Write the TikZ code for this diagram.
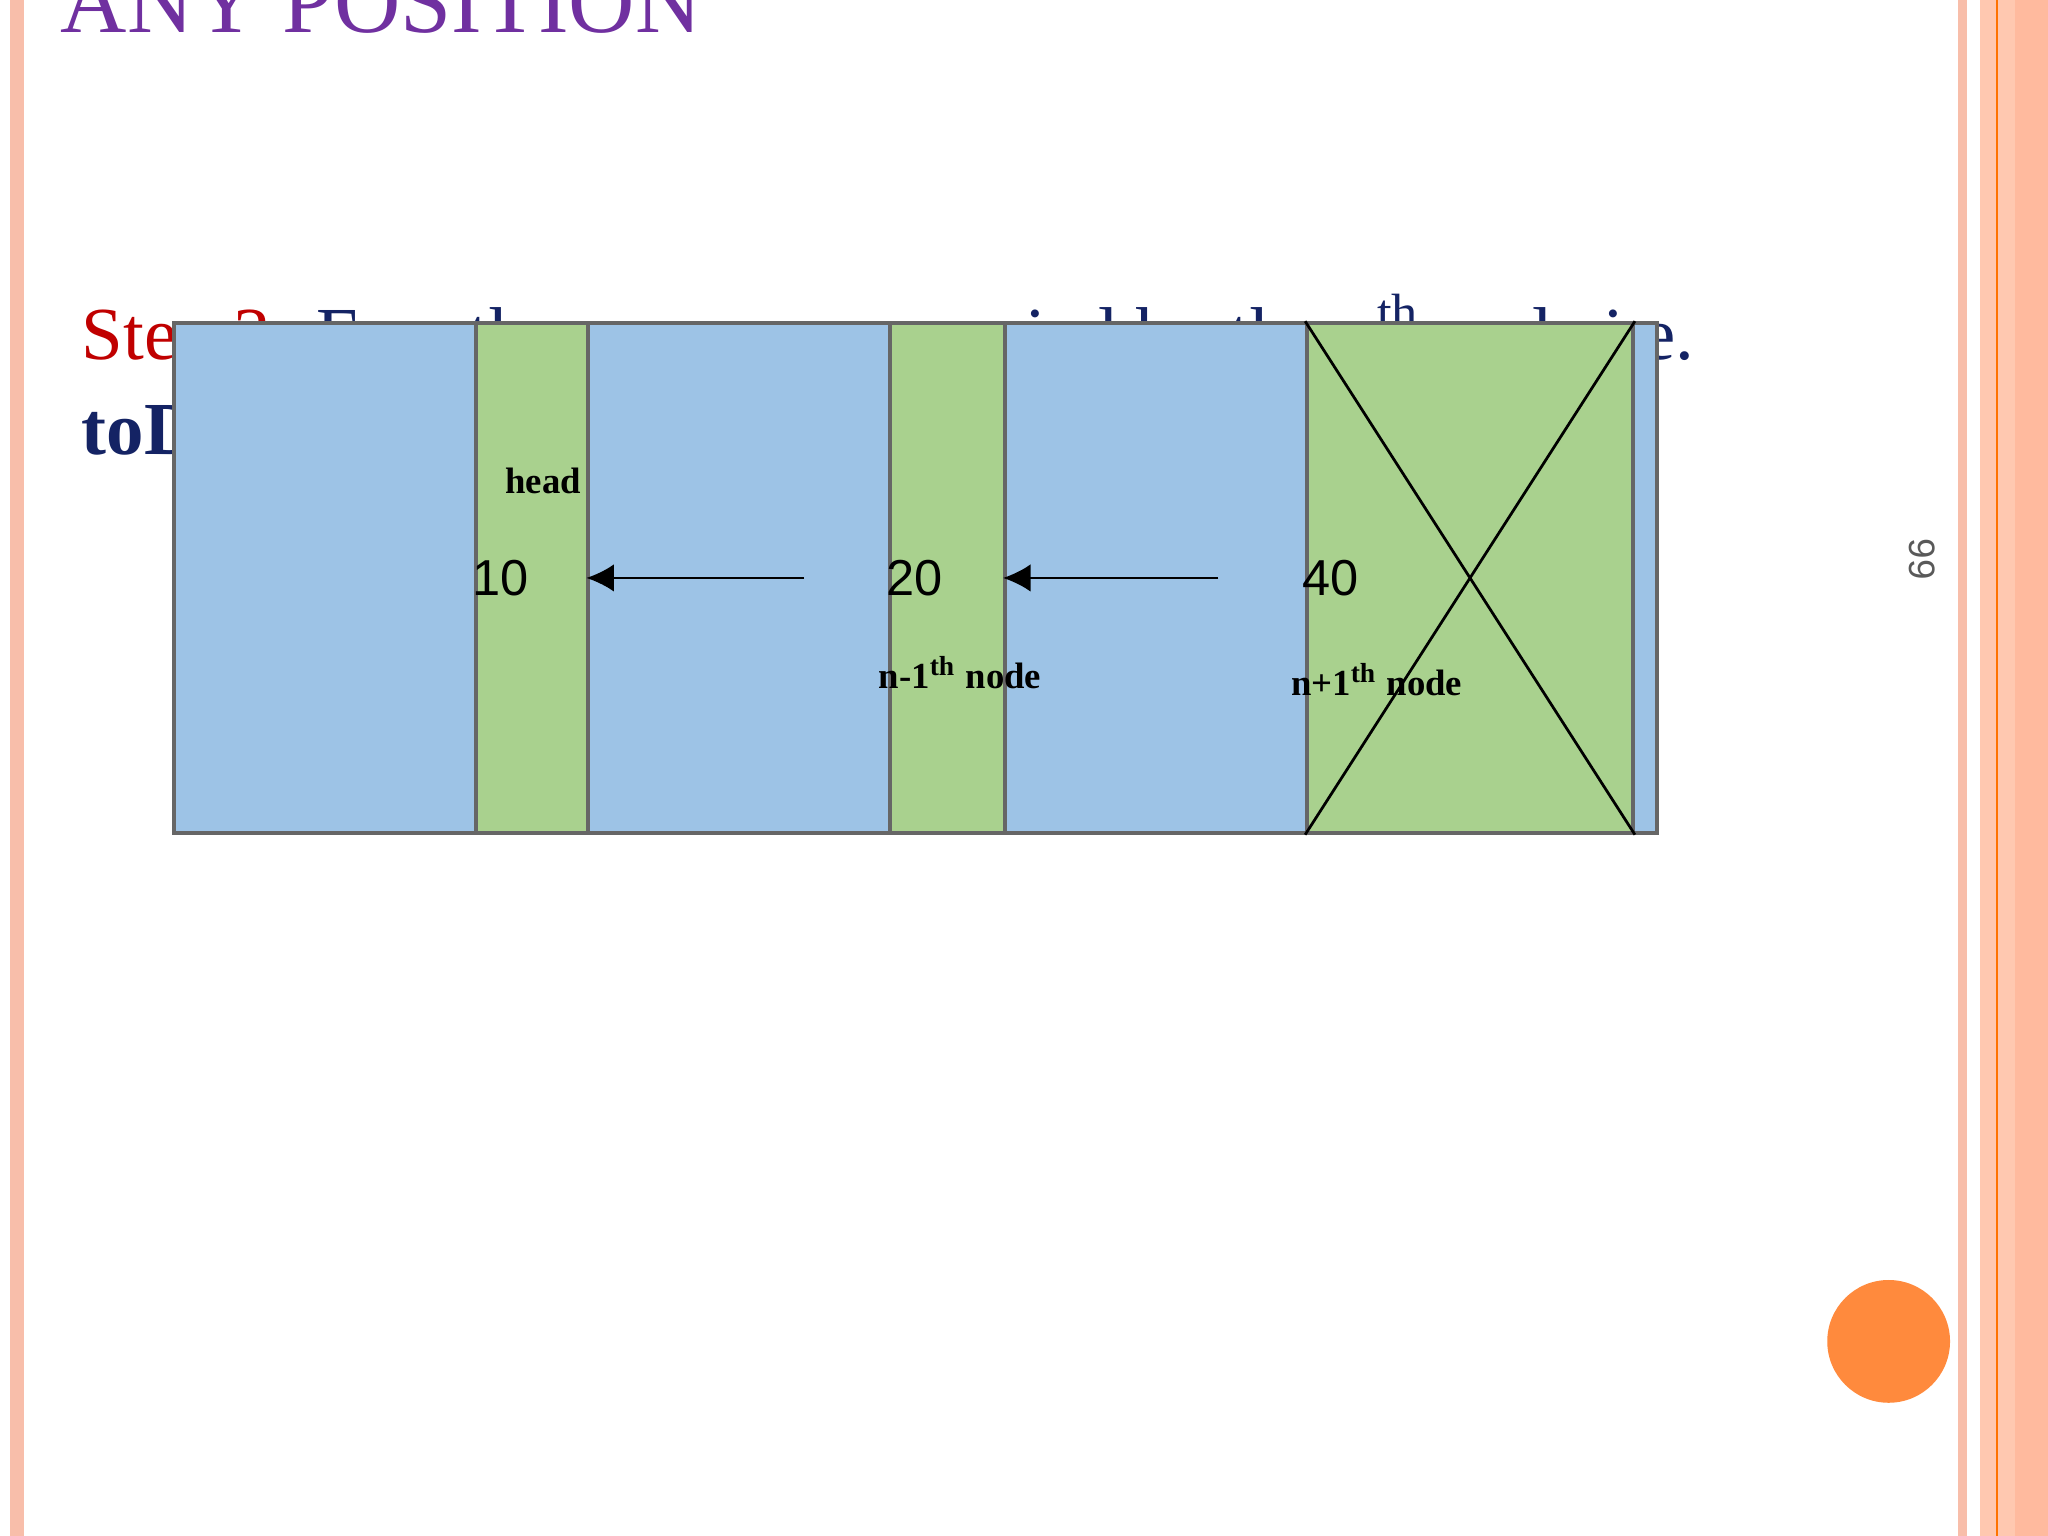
\documentclass[tikz,border=0pt]{standalone}
\usepackage{fontspec}
\usetikzlibrary{arrows.meta}
\setmainfont{Liberation Serif}
\newfontfamily\sansf{Liberation Sans}
\definecolor{salmon}{RGB}{248,190,170}
\definecolor{peach}{RGB}{255,200,176}
\definecolor{peachd}{RGB}{255,186,158}
\definecolor{navy}{RGB}{20,35,100}
\definecolor{boxblue}{RGB}{157,195,230}
\definecolor{boxgreen}{RGB}{169,209,142}
\definecolor{titlepurple}{RGB}{112,48,160}
\definecolor{dotorange}{RGB}{255,138,61}
\definecolor{stepred}{RGB}{192,0,0}
\begin{document}
\begin{tikzpicture}[x=0.01cm,y=-0.01cm,
  blu/.style={draw=black!60,fill=boxblue,minimum width=142,minimum height=111,inner sep=0,line width=0.8pt},
  grn/.style={draw=black!60,fill=boxgreen,minimum width=71,minimum height=111,inner sep=0,line width=0.8pt},
  lbl/.style={font=\fontsize{8}{9}\selectfont\bfseries},
  num/.style={font=\sansf\fontsize{11}{12}\selectfont},
  arr/.style={-{Latex[length=6pt,width=6pt]},line width=0.6pt}]
\useasboundingbox (0,0) rectangle (1568,1176);
\fill[white] (0,0) rectangle (1568,1176);
% stripes
\fill[salmon] (8,0) rectangle (18,1176);
\fill[salmon] (1499,0) rectangle (1506,1176);
\fill[peach] (1516,0) rectangle (1568,1176);
\fill[peachd] (1543,0) rectangle (1568,1176);
\draw[orange!90!red,line width=0.6pt] (1529,0) -- (1529,1176);
% title
\node[anchor=base west,inner sep=0,text=titlepurple,font=\fontsize{20}{24}\selectfont] (title) at (46,25) {ANY POSITION};
% text
\node[anchor=base west,inner sep=0,font=\fontsize{16.3}{20}\selectfont] (l1) at (62,275)
 {\textcolor{stepred}{Step 3:} \textcolor{navy}{Free the memory occupied by the n\textsuperscript{th} node i.e.}};
\node[anchor=base west,inner sep=0,font=\fontsize{16.3}{20}\selectfont,text=navy] (l2) at (62,348)
 {\textbf{toDelete} node};
% frame
\fill[black!40] (269,343) rectangle (1207,572);
\draw[line width=1.4pt,fill=white] (275,338) rectangle (1207,566);
% nodes
\node[blu] (b1) at (383,442.5) {};
\node[grn] (g1) at (489.5,442.5) {};
\node[blu] (b2) at (700,442.5) {};
\node[grn] (g2) at (806.5,442.5) {};
\node[blu] (b3) at (1019,442.5) {};
\node[grn] (g3) at (1125.5,442.5) {};
\draw[line width=0.6pt] (g3.north west) -- (g3.south east) (g3.north east) -- (g3.south west);
\node[num] (n1) at (b1) {10};
\node[num] (n2) at (b2) {20};
\node[num] (n3) at (b3) {40};
\draw[arr] (g1.east) -- (b2.west);
\draw[arr] (g2.east) -- (b3.west);
\node[lbl] (hd) at (416,368) {head};
\node[lbl] (m1) at (735,515) {n-1\textsuperscript{th} node};
\node[lbl] (p1) at (1054,520) {n+1\textsuperscript{th} node};
% page number
\node[rotate=-90,text=black!65,font=\sansf\fontsize{8}{9}\selectfont] (pg) at (1472,428) {99};
% circle
\fill[dotorange] (1446,1027) circle (47);
\end{tikzpicture}
\end{document}
